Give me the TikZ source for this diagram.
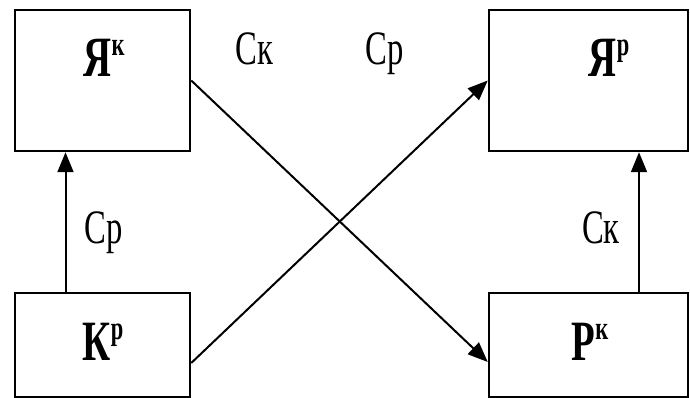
\documentclass[tikz,border=0pt]{standalone}
\usepackage{fontspec}
\setmainfont{Liberation Serif}
\usetikzlibrary{arrows.meta}
\newcommand\sqz[1]{\scalebox{0.68}[1]{#1}}
\newcommand\boxlab[2]{\sqz{\fontsize{57}{60}\selectfont\bfseries #1\raisebox{21pt}{\fontsize{33}{33}\selectfont #2}}}
\newcommand\arclab[1]{\sqz{\fontsize{48}{50}\selectfont #1}}
\begin{document}
\begin{tikzpicture}[x=1pt,y=-1pt,
  blk/.style={draw,line width=2.5pt,inner sep=0pt},
  arr/.style={line width=2pt,-{Triangle[length=20pt,width=16pt]}},
  lab/.style={anchor=base,inner sep=0pt}]
\useasboundingbox (0,0) rectangle (690,398);
\fill[white] (0,0) rectangle (690,398);
% boxes
\node[blk,minimum width=175pt,minimum height=141pt] (TL) at (102.5,80.5) {};
\node[blk,minimum width=199pt,minimum height=141pt] (TR) at (588.5,80.5) {};
\node[blk,minimum width=175pt,minimum height=104pt] (BL) at (102.5,345) {};
\node[blk,minimum width=199pt,minimum height=104pt] (BR) at (588.5,345) {};
% box labels
\node[lab] (tTL) at (104,77) {\boxlab{Я}{к}};
\node[lab] (tTR) at (609,77) {\boxlab{Я}{р}};
\node[lab] (tBL) at (103,360) {\boxlab{К}{р}};
\node[lab] (tBR) at (590,360) {\boxlab{Р}{к}};
% arc labels
\node[lab] (l1) at (254.5,65) {\arclab{Ск}};
\node[lab] (l2) at (385,65) {\arclab{Ср}};
\node[lab] (l3) at (104,243) {\arclab{Ср}};
\node[lab] (l4) at (601,243) {\arclab{Ск}};
% connectors
\coordinate (xa) at (65.5,0);
\coordinate (xb) at (639,0);
\draw[arr] (xa |- BL.north) -- (xa |- TL.south);
\draw[arr] (xb |- BR.north) -- (xb |- TR.south);
\draw[arr] (TL.east) -- ([yshift=-17pt]BR.west);
\draw[arr] ([yshift=-18pt]BL.east) -- (TR.west);
\end{tikzpicture}
\end{document}
